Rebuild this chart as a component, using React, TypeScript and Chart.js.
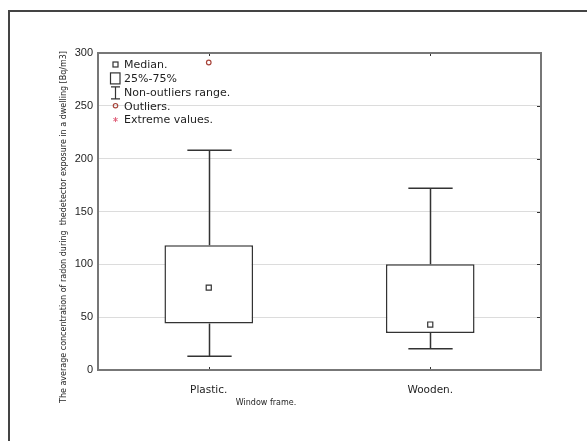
import React, { useEffect, useRef } from "react";
import { Chart, registerables } from "chart.js";

Chart.register(...registerables);

const categories = ["Plastic.", "Wooden."];
const whiskerLow = [13, 20];
const q1 = [44, 35];
const medians = [78, 43];
const q3 = [118, 100];
const whiskerHigh = [208, 172];
const outliers: (number | null)[] = [291, null];
const yMin = 0;
const yMax = 300;
const yStep = 50;
const legendLabels = ["Median.", "25%-75%", "Non-outliers range.", "Outliers.", "Extreme values."];
const xTitle = "Window frame.";
const yTitle = "The average concentration of radon during  thedetector exposure in a dwelling [Bq/m3]";

const DARK = "#333333";
const FRAME = "#777777";
const OUTLIER = "#a8463c";
const EXTREME = "#e0607a";
const TEXT = "#1e1e1e";

const extrasPlugin = {
  id: "boxExtras",
  beforeDatasetsDraw(chart: any) {
    const { ctx, scales } = chart;
    const x = scales.x;
    const y = scales.y;
    const band = x.getPixelForValue(1) - x.getPixelForValue(0);
    const cap = band * 0.1;
    ctx.save();
    ctx.strokeStyle = DARK;
    ctx.lineWidth = 1.5;
    categories.forEach((_, i) => {
      const cx = Math.round(x.getPixelForValue(i)) + 0.5;
      const yHi = y.getPixelForValue(whiskerHigh[i]);
      const yLo = y.getPixelForValue(whiskerLow[i]);
      const yQ1 = y.getPixelForValue(q1[i]);
      const yQ3 = y.getPixelForValue(q3[i]);
      ctx.beginPath();
      ctx.moveTo(cx, yQ3);
      ctx.lineTo(cx, yHi);
      ctx.moveTo(cx - cap, yHi);
      ctx.lineTo(cx + cap, yHi);
      ctx.moveTo(cx, yQ1);
      ctx.lineTo(cx, yLo);
      ctx.moveTo(cx - cap, yLo);
      ctx.lineTo(cx + cap, yLo);
      ctx.stroke();
    });
    ctx.restore();
  },
  afterDraw(chart: any) {
    const { ctx, chartArea, scales } = chart;
    const x = scales.x;
    const y = scales.y;
    const { left, right, top, bottom } = chartArea;
    ctx.save();
    // frame
    ctx.strokeStyle = FRAME;
    ctx.lineWidth = 2;
    ctx.strokeRect(left, top, right - left, bottom - top);
    // inward ticks
    ctx.strokeStyle = DARK;
    ctx.lineWidth = 1;
    ctx.beginPath();
    for (let v = yMin + yStep; v < yMax; v += yStep) {
      const py = Math.round(y.getPixelForValue(v)) + 0.5;
      ctx.moveTo(right - 1, py);
      ctx.lineTo(right - 4, py);
    }
    categories.forEach((_, i) => {
      const px = Math.round(x.getPixelForValue(i)) + 0.5;
      ctx.moveTo(px, top + 1);
      ctx.lineTo(px, top + 3);
      ctx.moveTo(px, bottom - 1);
      ctx.lineTo(px, bottom - 3);
    });
    ctx.stroke();

    // legend
    const sx = left + 17.5;
    const tx = left + 26;
    const ly0 = top + 12;
    const dy = 13.9;
    ctx.font = "11px 'DejaVu Sans'";
    ctx.fillStyle = TEXT;
    ctx.textAlign = "left";
    ctx.textBaseline = "middle";
    legendLabels.forEach((lab, i) => {
      ctx.fillText(lab, tx, ly0 + i * dy);
    });
    ctx.lineWidth = 1.2;
    ctx.strokeStyle = DARK;
    // median symbol
    ctx.strokeRect(sx - 2.5, ly0 - 3, 5, 5);
    // box symbol
    const by = ly0 + dy;
    ctx.strokeRect(sx - 5, by - 6, 9.5, 11);
    // whisker symbol
    const wy = ly0 + 2 * dy;
    ctx.beginPath();
    ctx.moveTo(sx - 4.5, wy - 6);
    ctx.lineTo(sx + 4.5, wy - 6);
    ctx.moveTo(sx, wy - 6);
    ctx.lineTo(sx, wy + 6);
    ctx.moveTo(sx - 4.5, wy + 6);
    ctx.lineTo(sx + 4.5, wy + 6);
    ctx.stroke();
    // outlier symbol
    const oy = ly0 + 3 * dy;
    ctx.strokeStyle = OUTLIER;
    ctx.beginPath();
    ctx.arc(sx, oy - 1, 2.2, 0, Math.PI * 2);
    ctx.stroke();
    // extreme symbol
    const ey = ly0 + 4 * dy;
    ctx.strokeStyle = EXTREME;
    ctx.lineWidth = 1;
    ctx.beginPath();
    for (let k = 0; k < 3; k++) {
      const a = (k * Math.PI) / 3 + Math.PI / 2;
      ctx.moveTo(sx + Math.cos(a) * 2.5, ey - 1 + Math.sin(a) * 2.5);
      ctx.lineTo(sx - Math.cos(a) * 2.5, ey - 1 - Math.sin(a) * 2.5);
    }
    ctx.stroke();

    // axis titles
    ctx.fillStyle = TEXT;
    ctx.textAlign = "center";
    ctx.textBaseline = "middle";
    ctx.font = "8px 'DejaVu Sans'";
    ctx.fillText(xTitle, 266, 403);
    ctx.translate(64, 227);
    ctx.rotate(-Math.PI / 2);
    ctx.font = "8px 'DejaVu Sans'";
    ctx.fillText(yTitle, 0, 0);
    ctx.restore();
  },
};

export default function App() {
  const ref = useRef<HTMLCanvasElement>(null);
  useEffect(() => {
    if (!ref.current) return;
    const chart = new Chart(ref.current, {
      type: "bar",
      data: {
        labels: categories,
        datasets: [
          {
            type: "line",
            label: "Median",
            data: medians,
            showLine: false,
            pointStyle: "rect",
            pointRadius: 3.6,
            pointBorderWidth: 1.2,
            pointBorderColor: DARK,
            pointBackgroundColor: "#ffffff",
          } as any,
          {
            type: "line",
            label: "Outliers",
            data: outliers,
            showLine: false,
            pointStyle: "circle",
            pointRadius: 2.3,
            pointBorderWidth: 1.2,
            pointBorderColor: OUTLIER,
            pointBackgroundColor: "#ffffff",
          } as any,
          {
            type: "bar",
            label: "25%-75%",
            data: categories.map((_, i) => [q1[i], q3[i]]),
            backgroundColor: "#ffffff",
            borderColor: DARK,
            borderWidth: 1.5,
            borderSkipped: false,
            barPercentage: 0.4,
            categoryPercentage: 1.0,
          } as any,
        ],
      },
      options: {
        animation: false,
        responsive: false,
        events: [],
        layout: { padding: { left: 38, right: 46, top: 53, bottom: 41 } },
        plugins: {
          legend: { display: false },
          tooltip: { enabled: false },
          title: { display: false },
        },
        scales: {
          x: {
            type: "category",
            offset: true,
            grid: { display: false, drawTicks: false },
            border: { display: false },
            ticks: {
              color: TEXT,
              font: { family: "'DejaVu Sans'", size: 10.5 },
              padding: 14,
              maxRotation: 0,
            },
            afterFit: (s: any) => {
              s.height = 30;
            },
          },
          y: {
            min: yMin,
            max: yMax,
            grid: { color: "#dcdcdc", lineWidth: 1, drawTicks: false },
            border: { display: false },
            ticks: {
              stepSize: yStep,
              color: TEXT,
              font: { family: "'Liberation Sans'", size: 11 },
              padding: 5,
            },
            afterFit: (s: any) => {
              s.width = 60;
            },
          },
        },
      },
      plugins: [extrasPlugin],
    });
    return () => chart.destroy();
  }, []);

  return (
    <div
      style={{
        position: "fixed",
        left: 0,
        top: 0,
        width: 587,
        height: 441,
        overflow: "hidden",
        background: "#fff",
      }}
    >
      <div
        style={{
          position: "absolute",
          left: 8,
          top: 10,
          width: 700,
          height: 600,
          border: "2px solid #444",
        }}
      />
      <canvas
        ref={ref}
        width={587}
        height={441}
        style={{ position: "absolute", left: 0, top: 0 }}
      />
    </div>
  );
}
